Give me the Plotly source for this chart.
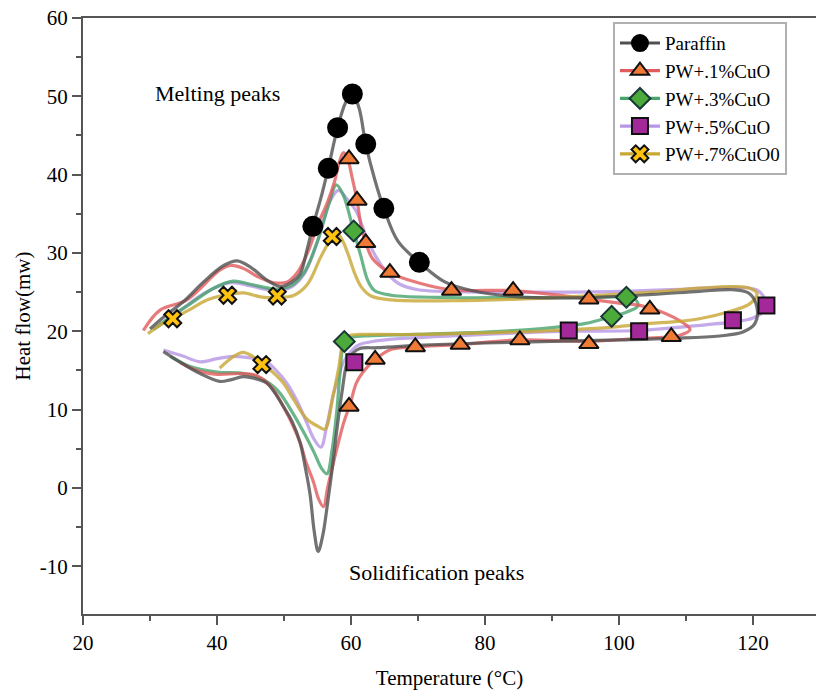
import plotly.graph_objects as go

# ---------------- data ----------------
# Paraffin loop: heating branch then cooling branch
par_x = [30, 32, 35, 38, 41, 43, 45, 47.5, 49.5, 51.2, 52.4, 53.4, 54.3, 55.5, 56.6, 58.0, 59.2, 60.2, 61.2, 62.2,
         63.5, 64.9, 67.0, 70.2, 74.0, 78.0, 85, 95, 105, 112, 117, 119.5, 120.6,
         120.3, 118.5, 115, 108, 100, 90, 80, 70, 64, 61.3, 60.3, 59.4, 58.7, 57.9, 57.2, 56.4, 55.8, 55.1, 54.5,
         53.9, 53.2, 52.4, 51.2, 49.9, 48.5, 47.4, 45.5, 43.9, 42, 40.4, 37.5, 35, 32]
par_y = [20.3, 21.8, 23.8, 26.3, 28.4, 29.0, 28.2, 26.5, 25.7, 26.3, 27.3, 30.3, 33.4, 37.0, 40.8, 46.0, 49.2, 50.4, 48.5, 43.9,
         39.5, 35.7, 31.5, 28.8, 26.3, 25.2, 24.4, 24.3, 24.7, 25.1, 25.3, 24.8, 23.0,
         21.0, 19.9, 19.4, 19.1, 18.9, 18.7, 18.5, 18.2, 17.9, 17.8, 17.2, 15.9, 12.5, 7.5, 2.5, -2.6, -6.0, -8.1, -5.5,
         -0.9, 2.5, 5.8, 8.5, 10.4, 12.3, 13.4, 14.0, 14.2, 13.8, 13.6, 14.6, 15.8, 17.4]

# PW + 0.1 % CuO
pw1_x = [29, 31.5, 35.5, 40.4, 42, 44, 46, 48.5, 50.5, 52, 53.5, 55, 56.5, 57.5, 58.4, 58.9, 59.5, 60.2, 60.9,
         61.5, 62.2, 63.2, 65.8, 70, 75, 84, 90, 95.5, 100, 103.1, 106, 108.1, 110.0, 110.6,
         109.1, 107.8, 103.1, 95.5, 85.2, 76.1, 69.6, 66, 63.6, 61.8, 60.8, 59.9, 58.9, 57.4, 56.5, 55.9, 55.2,
         54.4, 53.2, 52.4, 49.9, 48, 46, 43.5, 40, 37, 34.5]
pw1_y = [20.1, 22.7, 24.0, 27.8, 28.4, 28.0, 27.0, 26.2, 26.3, 27.5, 30.0, 33.5, 36.5, 39.0, 42.0, 42.8, 42.0, 39.5, 36.7,
         33.5, 31.3, 29.3, 27.5, 26.2, 25.3, 25.2, 24.7, 24.1, 23.6, 23.3, 22.6, 21.8, 20.8, 20.2,
         19.5, 19.3, 19.1, 18.7, 18.9, 18.3, 18.0, 17.7, 16.4, 14.8, 13.4, 10.8, 8.3, 3.3, 0.0, -2.4, -1.5,
         0.75, 3.5, 5.8, 10.4, 13.0, 14.3, 14.6, 14.5, 15.0, 16.0]

# PW + 0.3 % CuO
pw3_x = [30.5, 33, 36, 39.5, 42.4, 45, 48.7, 51, 53, 55, 56.8, 57.8, 58.8, 60.4, 61.5, 62.5, 63.5, 66, 75, 85,
         95, 101.1, 102.6, 102.8, 101, 98.9, 95, 88, 80, 70, 62, 60, 59, 58.4, 57.9, 57.2, 56.4, 55.6, 54.5,
         53, 51, 49, 46.5, 44, 40, 36, 33]
pw3_y = [20.2, 21.8, 23.5, 25.5, 26.4, 26.0, 25.4, 25.8, 27.5, 31.5, 36.5, 38.7, 37.5, 32.8, 29.5, 26.5, 25.2, 24.6, 24.3, 24.3,
         24.3, 24.35, 23.9, 23.2, 22.4, 21.9, 21.0, 20.3, 19.9, 19.6, 19.4, 19.2, 18.7, 15.0, 10.0, 5.0, 1.8, 2.5, 4.5,
         7.0, 10.0, 12.5, 14.0, 14.6, 14.8, 15.5, 16.8]

# PW + 0.5 % CuO
pw5_x = [31, 34, 38, 42, 45, 48.5, 51, 53, 55, 56.8, 58.1, 59.3, 60.8, 62.3, 63.8, 65.5, 67.3, 70, 80, 90,
         100, 110, 117, 120.5, 121.8, 121.6, 120, 117, 110, 103, 92.5, 80, 70, 64, 61, 59.6, 58.8, 58, 57.3,
         56.4, 55.5, 54.5, 53.4, 52, 50.4, 48.5, 47.4, 45, 42.4, 40, 37.5, 35, 32]
pw5_y = [20.5, 22.3, 24.8, 26.2, 25.8, 25.2, 25.6, 27.3, 31.5, 36.5, 38.0, 37.0, 35.3, 32.0, 29.4, 27.3, 26.0, 25.3, 25.0, 25.0,
         25.1, 25.4, 25.6, 25.3, 24.0, 22.6, 21.7, 21.2, 20.6, 20.1, 20.0, 19.6, 19.2, 18.8, 18.2, 17.0, 15.9, 13.8, 11.7,
         8.0, 5.2, 6.2, 8.3, 11.0, 13.4, 15.3, 16.1, 16.6, 16.8, 16.5, 16.1, 16.8, 17.6]

# PW + 0.7 % CuO
pw7_x = [29.7, 31.5, 33.4, 36, 38.5, 41.6, 44, 46.5, 49, 51.5, 53.5, 55.5, 57.2, 57.8, 58.6, 59.5, 60.5, 61.5, 63, 66,
         75, 85, 95, 105, 112, 117, 119.5, 120.6, 119.5, 116, 112, 108, 104.6, 100, 95, 88, 80, 70, 63, 61.3,
         59.6, 58.8, 58.2, 57.3, 56.1, 55.2, 53.4, 51.5, 49.9, 48.3, 46.8, 45.3, 43.9, 42.5, 40.4]
pw7_y = [19.7, 20.8, 21.6, 22.8, 24.0, 24.7, 24.9, 24.4, 24.3, 24.6, 26.0, 29.5, 32.1, 32.6, 31.8, 30.0, 27.5, 25.7, 24.5, 24.0,
         23.9, 24.1, 24.5, 25.0, 25.5, 25.7, 25.5, 24.8, 23.5, 22.4, 21.6, 21.2, 21.0, 20.6, 20.3, 20.0, 19.8, 19.6, 19.6, 19.6,
         19.4, 18.5, 15.5, 11.7, 7.5, 7.8, 8.8, 11.2, 13.4, 14.8, 15.8, 16.8, 17.3, 16.8, 15.3]

# sparse symbol positions
par_mx = [54.3, 56.6, 58.0, 60.2, 62.2, 64.9, 70.2]
par_my = [33.4, 40.8, 46.0, 50.3, 43.9, 35.7, 28.8]
pw1_mx = [59.7, 60.9, 62.2, 65.8, 75.0, 84.2, 95.5, 104.6, 59.7, 63.6, 69.6, 76.3, 85.2, 95.5, 107.8]
pw1_my = [42.0, 36.7, 31.3, 27.5, 25.2, 25.2, 24.1, 22.8, 10.4, 16.4, 18.0, 18.3, 18.9, 18.4, 19.3]
pw3_mx = [60.4, 101.1, 98.9, 59.0]
pw3_my = [32.8, 24.35, 21.9, 18.7]
pw5_mx = [60.5, 92.5, 103.0, 117.0, 122.0]
pw5_my = [16.05, 20.1, 20.0, 21.4, 23.3]
pw7_mx = [33.4, 41.6, 49.0, 57.2, 46.7]
pw7_my = [21.6, 24.6, 24.5, 32.1, 15.75]

names = ["Paraffin", "PW+.1%CuO", "PW+.3%CuO", "PW+.5%CuO", "PW+.7%CuO0"]
x_ticks = [20, 40, 60, 80, 100, 120]
y_ticks = [-10, 0, 10, 20, 30, 40, 50, 60]
y_tick_text = ["-10", "0", "10", "20", "30", "40", "50", "60"]

# ---------------- styles ----------------
line_cols = ["#505050", "#e25b5c", "#46a36c", "#b796e6", "#c9a733"]
sym = ["circle", "triangle-up", "diamond", "square", "x"]
fill = ["#000000", "#ef7a35", "#4caa3a", "#a3299a", "#ffc20e"]
edge = ["#000000", "#111111", "#183838", "#111111", "#111111"]
msize = [19, 17, 16, 16, 15]

lines = [(par_x, par_y), (pw1_x, pw1_y), (pw3_x, pw3_y), (pw5_x, pw5_y), (pw7_x, pw7_y)]
marks = [(par_mx, par_my), (pw1_mx, pw1_my), (pw3_mx, pw3_my), (pw5_mx, pw5_my), (pw7_mx, pw7_my)]

fig = go.Figure()
for i in [3, 2, 1, 4, 0]:
    lx, ly = lines[i]
    fig.add_trace(go.Scatter(x=lx, y=ly, mode="lines", showlegend=False, opacity=0.8,
                             line=dict(color=line_cols[i], width=3.2, shape="spline", smoothing=1.0),
                             hoverinfo="skip"))
for i in range(5):
    mx, my = marks[i]
    fig.add_trace(go.Scatter(x=mx, y=my, mode="markers", showlegend=False,
                             marker=dict(symbol=sym[i], size=msize[i], color=fill[i],
                                         line=dict(color=edge[i], width=2))))
for i in range(5):
    fig.add_trace(go.Scatter(x=[None], y=[None], mode="lines+markers", name=names[i],
                             line=dict(color=line_cols[i], width=3.2),
                             marker=dict(symbol=sym[i], size=msize[i], color=fill[i],
                                         line=dict(color=edge[i], width=2))))

font_fam = "Liberation Serif, Times New Roman, serif"
axis_col = "#555555"

fig.update_layout(
    width=816, height=690,
    margin=dict(l=83, r=0, t=18, b=70),
    paper_bgcolor="white", plot_bgcolor="white",
    font=dict(family=font_fam, size=21, color="black"),
    showlegend=True,
    legend=dict(x=0.723, y=0.993, xanchor="left", yanchor="top",
                bgcolor="white", bordercolor="#b0b0b0", borderwidth=2,
                font=dict(family=font_fam, size=19, color="black"),
                itemwidth=40, tracegroupgap=0),
    xaxis=dict(range=[20, 129.4], tickvals=x_ticks, ticks="outside", ticklen=9, tickwidth=2,
               tickcolor=axis_col, showline=True, linecolor=axis_col, linewidth=2, mirror=True,
               showgrid=False, zeroline=False,
               minor=dict(tickvals=[30, 50, 70, 90, 110], ticks="outside", ticklen=5, tickwidth=2,
                          tickcolor=axis_col),
               tickfont=dict(family=font_fam, size=21, color="black"),
               title=dict(text="Temperature (°C)", standoff=20,
                          font=dict(family=font_fam, size=21, color="black"))),
    yaxis=dict(range=[-16.1, 60], tickvals=y_ticks, ticktext=y_tick_text, ticks="outside", ticklen=9,
               tickwidth=2, tickcolor=axis_col, showline=True, linecolor=axis_col, linewidth=2,
               showgrid=False, zeroline=False,
               minor=dict(tickvals=[-5, 5, 15, 25, 35, 45, 55], ticks="outside", ticklen=5, tickwidth=2,
                          tickcolor=axis_col),
               tickfont=dict(family=font_fam, size=21, color="black"),
               title=dict(text="Heat flow(mw)", standoff=3,
                          font=dict(family=font_fam, size=21, color="black"))),
    annotations=[
        dict(x=40.1, y=50.3, xref="x", yref="y", text="Melting peaks", showarrow=False,
             font=dict(family=font_fam, size=22, color="black")),
        dict(x=72.8, y=-10.8, xref="x", yref="y", text="Solidification peaks", showarrow=False,
             font=dict(family=font_fam, size=22, color="black")),
    ],
)

fig.write_html("out.html")
